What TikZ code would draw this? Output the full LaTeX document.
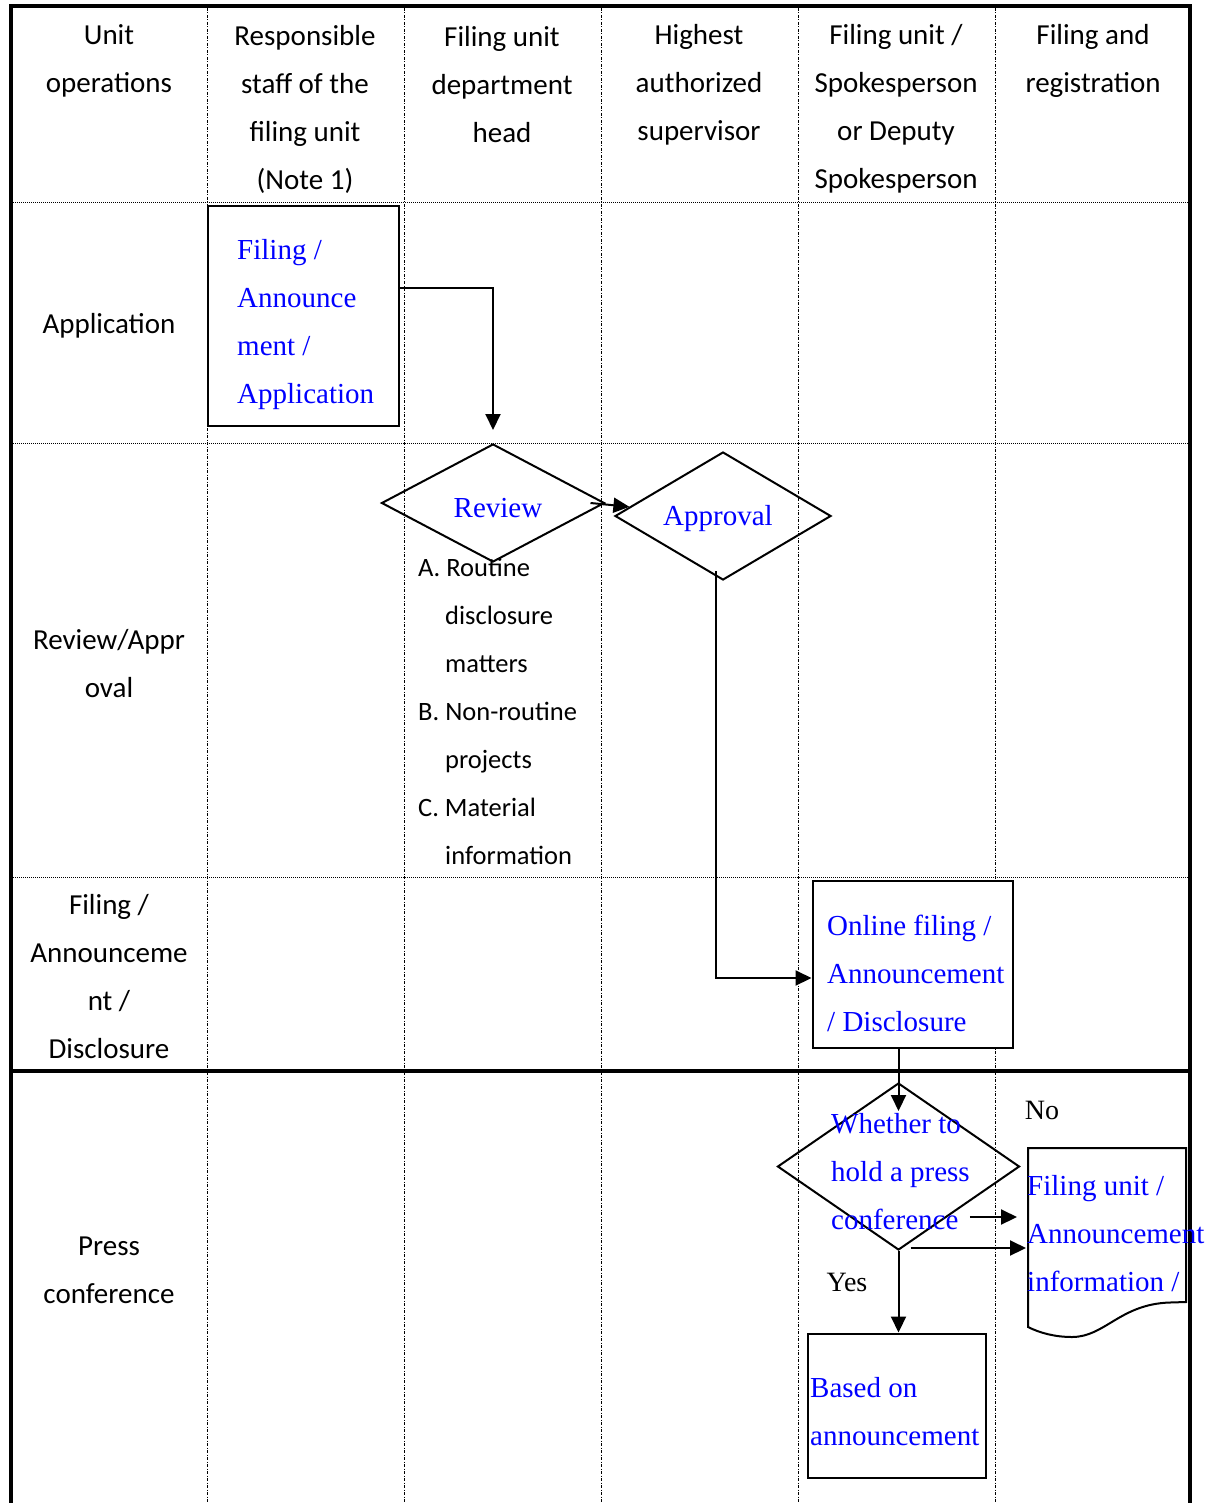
\documentclass[tikz,border=0pt]{standalone}
\usepackage{fontspec}
\setmainfont{Liberation Serif}
\newfontfamily\calibri{Carlito}
\usetikzlibrary{shapes.geometric,arrows.meta}

\begin{document}
\begin{tikzpicture}[x=1pt,y=-1pt,
        >={Triangle[length=16pt,width=15pt]},
        head/.style={font=\calibri\fontsize{29}{48}\selectfont, align=center, inner sep=0pt},
        note/.style={font=\calibri\fontsize{26.5}{48}\selectfont, align=left, inner sep=0pt, anchor=west},
        bluetxt/.style={font=\fontsize{29}{48}\selectfont, text=blue, align=left, inner sep=0pt},
        yesno/.style={font=\fontsize{28}{30}\selectfont, inner sep=0pt},
        box/.style={draw, line width=2pt, fill=white, inner sep=0pt},
        choice/.style={draw, diamond, line width=2pt, inner sep=0pt},
        flow/.style={line width=2pt, ->},
        colline/.style={line width=0.9pt, dash pattern=on 3pt off 1.5pt on 1pt off 1.5pt},
        rowline/.style={line width=0.9pt, dash pattern=on 1pt off 1pt},
        frame/.style={line width=4.3pt}]
    \useasboundingbox (0,0) rectangle (1218,1503);
    \foreach \x in {207,404,601,798,995} \draw [colline] (\x,8) -- (\x,1503);
    \foreach \y in {202,443,877} \draw [rowline] (11,\y) -- (1190,\y);
    \draw [frame] (11,1503) -- (11,6) -- (1190,6) -- (1190,1503);
    \draw [frame] (11,1071) -- (1190,1071);

    \node [head] (h0) at (109,61) {Unit\\operations};
    \node [head] (h1) at (305,109) {Responsible\\staff of the\\filing unit\\(Note 1)};
    \node [head] (h2) at (502,85) {Filing unit\\department\\head};
    \node [head] (h3) at (699,85) {Highest\\authorized\\supervisor};
    \node [head] (h4) at (896,109) {Filing unit /\\Spokesperson\\or Deputy\\Spokesperson};
    \node [head] (h5) at (1093,61) {Filing and\\registration};

    \node [head] (r1) at (109,326) {Application};
    \node [head] (r2) at (109,664) {Review/Appr\\oval};
    \node [head] (r3) at (109,977) {Filing /\\Announceme\\nt /\\Disclosure};
    \node [head] (r4) at (109,1270) {Press\\conference};

    \node [box, minimum width=191pt, minimum height=220pt] (apply) at (303.5,316) {};
    \node [bluetxt, anchor=west] (applytxt) at (237,325) {Filing /\\Announce\\ment /\\Application};
    \node [choice, minimum width=223pt, minimum height=118pt] (review) at (493,503) {};
    \node [bluetxt] (reviewtxt) at (498,508) {Review};
    \node [choice, minimum width=216pt, minimum height=128pt] (approval) at (723,516) {};
    \node [bluetxt] (approvaltxt) at (718,519) {Approval};
    \node [note] (criteria) at (418,711) {A. Routine\\\hspace*{27pt}disclosure\\\hspace*{27pt}matters\\B. Non-routine\\\hspace*{27pt}projects\\C. Material\\\hspace*{27pt}information};
    \node [box, minimum width=200pt, minimum height=167pt] (online) at (912.5,964) {};
    \node [bluetxt, anchor=west] (onlinetxt) at (827,973) {Online filing /\\Announcement\\/ Disclosure};
    \node [choice, minimum width=242pt, minimum height=167pt] (press) at (898.5,1166.5) {};
    \node [bluetxt, anchor=west] (presstxt) at (831,1172) {Whether to\\hold a press\\conference};
    \draw [line width=2pt] (1028,1148) -- (1186,1148) -- (1186,1302) -- (1170,1302.5) .. controls (1120,1304) and (1105,1337) .. (1072,1337) .. controls (1055,1337) and (1040,1333) .. (1028,1327) -- cycle;
    \node [bluetxt, anchor=west] (doctxt) at (1027,1234) {Filing unit /\\Announcement\\information /};
    \node [box, minimum width=178pt, minimum height=144pt] (based) at (896.5,1405.5) {};
    \node [bluetxt, anchor=west] (basedtxt) at (810,1412) {Based on\\announcement};
    \node [yesno] (no) at (1042,1110) {No};
    \node [yesno] (yes) at (847,1282) {Yes};

    \coordinate (turn) at (493,288);
    \draw [flow] (apply.east |- turn) -- (turn) -- ([yshift=13pt]review.north);
    \draw [flow] ([xshift=-15pt]review.east) -- (approval);
    \coordinate (bend) at (716,978);
    \draw [flow] ([yshift=10pt]approval.south -| bend) -- (bend) -- (online.west |- bend);
    \draw [flow] (online.south -| press) -- ([yshift=-29pt]press.north);
    \coordinate (no1) at (1017,1217);
    \draw [flow] (presstxt.east |- no1) -- (no1);
    \coordinate (no2) at (1026,1248);
    \draw [flow] ([xshift=12pt,yshift=3pt]press.south) -- (no2);
    \draw [flow] (press.south) -- (press.south |- based.north);
\end{tikzpicture}
\end{document}
